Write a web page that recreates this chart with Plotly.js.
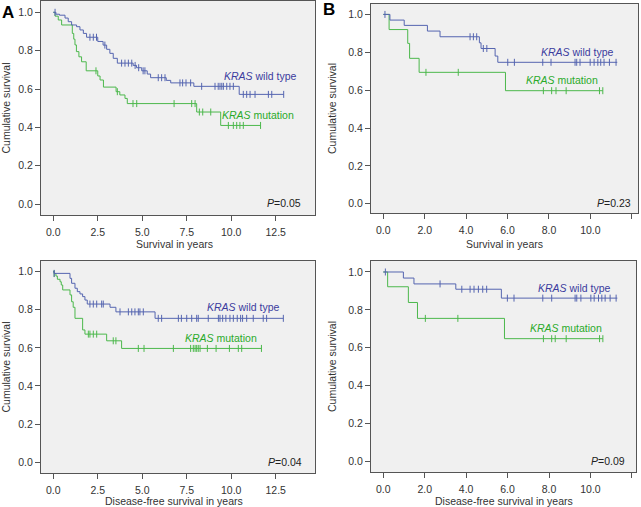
<!DOCTYPE html>
<html>
<head>
<meta charset="utf-8">
<script src="https://cdn.plot.ly/plotly-3.0.1.min.js"></script>
<style>html,body{margin:0;padding:0;background:#fff;}#chart{width:641px;height:507px;}</style>
</head>
<body>
<div id="chart"></div>
<script>
// Panel A: overall survival, all patients
const aWildT = [0, 0.15, 0.35, 0.66, 0.84, 1.03, 1.31, 1.5, 1.69, 1.87, 2.5, 2.8, 3.0, 3.18, 3.37, 3.6, 4.49, 4.68, 4.97, 5.28, 5.47, 6.35, 6.6, 7.9, 10.45, 12.95];
const aWildS = [1.0, 0.99, 0.985, 0.97, 0.951, 0.934, 0.925, 0.908, 0.89, 0.87, 0.848, 0.829, 0.807, 0.786, 0.76, 0.735, 0.723, 0.711, 0.695, 0.678, 0.659, 0.645, 0.632, 0.614, 0.572, 0.572];
const aWildCensT = [0.1, 2.06, 2.25, 2.43, 2.9, 3.84, 4.03, 4.22, 4.41, 4.6, 4.8, 5.05, 5.15, 5.9, 6.09, 6.28, 7.12, 7.27, 7.46, 7.72, 8.34, 9.09, 9.27, 9.37, 9.47, 9.56, 9.75, 9.93, 10.12, 10.68, 10.87, 11.06, 11.34, 12.09, 12.28, 12.95];
const aWildCensS = [1.0, 0.87, 0.87, 0.87, 0.829, 0.735, 0.735, 0.735, 0.735, 0.723, 0.711, 0.695, 0.695, 0.659, 0.659, 0.659, 0.632, 0.632, 0.632, 0.632, 0.614, 0.614, 0.614, 0.614, 0.614, 0.614, 0.614, 0.614, 0.614, 0.572, 0.572, 0.572, 0.572, 0.572, 0.572, 0.572];
const aMutT = [0, 0.1, 0.28, 0.47, 1.07, 1.15, 1.22, 1.3, 1.44, 1.59, 1.85, 2.5, 2.63, 2.82, 3.53, 3.74, 4.03, 4.16, 8.06, 9.41, 11.65];
const aMutS = [1.0, 0.98, 0.96, 0.934, 0.89, 0.86, 0.83, 0.795, 0.768, 0.742, 0.695, 0.668, 0.647, 0.61, 0.586, 0.569, 0.551, 0.524, 0.48, 0.41, 0.41];
const aMutCensT = [2.4, 3.6, 4.48, 4.69, 6.79, 7.78, 7.97, 8.21, 8.4, 8.85, 9.84, 10.12, 10.31, 10.49, 10.68, 11.65];
const aMutCensS = [0.695, 0.586, 0.524, 0.524, 0.524, 0.524, 0.524, 0.48, 0.48, 0.48, 0.41, 0.41, 0.41, 0.41, 0.41, 0.41];

// Panel B: overall survival, subgroup
const bWildT = [0, 0.32, 1.01, 2.13, 2.74, 4.64, 4.72, 5.4, 5.53, 11.3];
const bWildS = [1.0, 0.97, 0.942, 0.912, 0.882, 0.85, 0.82, 0.78, 0.747, 0.747];
const bWildCensT = [0.08, 4.19, 4.35, 4.51, 4.83, 5.0, 6.01, 6.33, 7.7, 8.1, 9.26, 9.34, 9.5, 9.99, 10.18, 10.36, 10.5, 10.66, 10.92, 11.24];
const bWildCensS = [1.0, 0.882, 0.882, 0.882, 0.82, 0.82, 0.747, 0.747, 0.747, 0.747, 0.747, 0.747, 0.747, 0.747, 0.747, 0.747, 0.747, 0.747, 0.747, 0.747];
const bMutT = [0, 0.28, 1.18, 1.27, 1.73, 5.9, 10.6];
const bMutS = [1.0, 0.92, 0.847, 0.768, 0.694, 0.597, 0.597];
const bMutCensT = [2.06, 3.62, 7.73, 8.13, 8.34, 8.83, 10.44, 10.6];
const bMutCensS = [0.694, 0.694, 0.597, 0.597, 0.597, 0.597, 0.597, 0.597];

// Panel C: disease-free survival, all patients
const cWildT = [0, 0.05, 0.94, 1.03, 1.22, 1.35, 1.5, 1.65, 1.78, 1.91, 3.19, 3.52, 5.72, 12.93];
const cWildS = [1.0, 0.991, 0.965, 0.939, 0.913, 0.895, 0.883, 0.869, 0.851, 0.83, 0.813, 0.789, 0.755, 0.755];
const cWildCensT = [0.05, 2.06, 2.25, 2.44, 2.72, 2.81, 3.75, 4.22, 4.41, 4.59, 4.78, 4.87, 5.06, 5.9, 6.09, 7.03, 7.2, 7.5, 7.78, 8.06, 8.15, 8.71, 9.28, 9.37, 9.52, 9.7, 9.93, 10.12, 10.34, 10.53, 10.64, 10.87, 11.24, 11.8, 11.99, 12.93];
const cWildCensS = [0.991, 0.83, 0.83, 0.83, 0.83, 0.83, 0.789, 0.789, 0.789, 0.789, 0.789, 0.789, 0.789, 0.755, 0.755, 0.755, 0.755, 0.755, 0.755, 0.755, 0.755, 0.755, 0.755, 0.755, 0.755, 0.755, 0.755, 0.755, 0.755, 0.755, 0.755, 0.755, 0.755, 0.755, 0.755, 0.755];
const cMutT = [0, 0.05, 0.15, 0.23, 0.38, 0.45, 0.53, 0.94, 1.03, 1.12, 1.22, 1.65, 1.78, 3.0, 3.84, 11.7];
const cMutS = [1.0, 0.99, 0.977, 0.96, 0.947, 0.93, 0.904, 0.878, 0.842, 0.813, 0.755, 0.694, 0.672, 0.637, 0.597, 0.597];
const cMutCensT = [0.05, 1.97, 2.06, 2.25, 2.44, 3.37, 3.52, 4.78, 5.1, 6.75, 7.72, 7.87, 7.97, 8.06, 8.15, 8.25, 8.66, 9.15, 9.9, 10.4, 10.59, 11.7];
const cMutCensS = [0.99, 0.672, 0.672, 0.672, 0.672, 0.637, 0.637, 0.597, 0.597, 0.597, 0.597, 0.597, 0.597, 0.597, 0.597, 0.597, 0.597, 0.597, 0.597, 0.597, 0.597, 0.597];

// Panel D: disease-free survival, subgroup
const dWildT = [0, 0.97, 1.48, 3.5, 5.7, 11.3];
const dWildS = [1.0, 0.968, 0.937, 0.909, 0.862, 0.862];
const dWildCensT = [0.1, 2.74, 3.79, 4.19, 4.38, 4.59, 4.8, 4.99, 5.99, 6.31, 7.7, 8.13, 9.26, 9.34, 9.54, 10.02, 10.18, 10.39, 10.55, 10.71, 10.95, 11.24];
const dWildCensS = [1.0, 0.937, 0.909, 0.909, 0.909, 0.909, 0.909, 0.909, 0.862, 0.862, 0.862, 0.862, 0.862, 0.862, 0.862, 0.862, 0.862, 0.862, 0.862, 0.862, 0.862, 0.862];
const dMutT = [0, 0.21, 1.21, 1.65, 5.85, 10.6];
const dMutS = [1.0, 0.922, 0.839, 0.755, 0.648, 0.648];
const dMutCensT = [2.03, 3.6, 7.73, 8.13, 8.3, 8.83, 10.44, 10.6];
const dMutCensS = [0.755, 0.755, 0.648, 0.648, 0.648, 0.648, 0.648, 0.648];

const pValues = ["0.05", "0.23", "0.04", "0.09"];
const xTitles = ["Survival in years", "Survival in years", "Disease-free survival in years", "Disease-free survival in years"];
const yTitle = "Cumulative survival";
const panelLetters = ["A", "B"];
const seriesNames = ["KRAS wild type", "KRAS mutation"];

const BLUE = "#5565b0", GREEN = "#4cb84c";
const BLUE_TXT = "#3b3b9e", GREEN_TXT = "#2aaa2a";
const FONT = "Liberation Sans, Arial, sans-serif";

const panels = [
  {xa: "x", ya: "y", wt: aWildT, ws: aWildS, wct: aWildCensT, wcs: aWildCensS, mt: aMutT, ms: aMutS, mct: aMutCensT, mcs: aMutCensS},
  {xa: "x2", ya: "y2", wt: bWildT, ws: bWildS, wct: bWildCensT, wcs: bWildCensS, mt: bMutT, ms: bMutS, mct: bMutCensT, mcs: bMutCensS},
  {xa: "x3", ya: "y3", wt: cWildT, ws: cWildS, wct: cWildCensT, wcs: cWildCensS, mt: cMutT, ms: cMutS, mct: cMutCensT, mcs: cMutCensS},
  {xa: "x4", ya: "y4", wt: dWildT, ws: dWildS, wct: dWildCensT, wcs: dWildCensS, mt: dMutT, ms: dMutS, mct: dMutCensT, mcs: dMutCensS}
];

const traces = [];
panels.forEach(p => {
  traces.push({x: p.mt, y: p.ms, xaxis: p.xa, yaxis: p.ya, mode: "lines", line: {shape: "hv", color: GREEN, width: 1}, name: seriesNames[1], showlegend: false, hoverinfo: "skip"});
  traces.push({x: p.mct, y: p.mcs, xaxis: p.xa, yaxis: p.ya, mode: "markers", marker: {symbol: "line-ns-open", size: 5, color: GREEN, line: {color: GREEN, width: 1}}, showlegend: false, hoverinfo: "skip"});
  traces.push({x: p.wt, y: p.ws, xaxis: p.xa, yaxis: p.ya, mode: "lines", line: {shape: "hv", color: BLUE, width: 1}, name: seriesNames[0], showlegend: false, hoverinfo: "skip"});
  traces.push({x: p.wct, y: p.wcs, xaxis: p.xa, yaxis: p.ya, mode: "markers", marker: {symbol: "line-ns-open", size: 5, color: BLUE, line: {color: BLUE, width: 1}}, showlegend: false, hoverinfo: "skip"});
});

const W = 641, H = 507;
const fx = px => px / W;
const fy = py => 1 - py / H;

function xaxis(dom, range, dtick) {
  return {
    domain: dom, range: range, tick0: 0, dtick: dtick, tickformat: ".1f",
    showline: true, mirror: true, linecolor: "#555", linewidth: 1,
    ticks: "outside", ticklen: 5, tickcolor: "#555", showgrid: false, zeroline: false,
    ticklabelstandoff: 2,
    tickfont: {family: FONT, size: 10.5, color: "#333"}
  };
}
function yaxis(dom, range) {
  return {
    domain: dom, range: range, tick0: 0, dtick: 0.2, tickformat: ".1f",
    showline: true, mirror: true, linecolor: "#555", linewidth: 1,
    ticks: "outside", ticklen: 5, tickcolor: "#555", showgrid: false, zeroline: false,
    tickfont: {family: FONT, size: 10.5, color: "#333"},
    title: {text: yTitle, font: {family: FONT, size: 10.5, color: "#333"}, standoff: 9}
  };
}

const labelPos = [
  {wx: 13.81, wy: 0.668, mx: 13.64, my: 0.464, px: 14.04, py: 0.005},
  {wx: 11.24, wy: 0.801, mx: 10.47, my: 0.653, px: 12.06, py: 0.004},
  {wx: 12.86, wy: 0.813, mx: 11.56, my: 0.65, px: 14.09, py: 0.0},
  {wx: 11.1, wy: 0.914, mx: 10.66, my: 0.706, px: 11.77, py: 0.003}
];
// x-axis title centres (px from top-left)
const xTitlePos = [[174, 244], [504, 244], [174, 500.5], [504, 500.5]];

const annotations = [];
labelPos.forEach((l, i) => {
  const xr = panels[i].xa, yr = panels[i].ya;
  annotations.push({xref: xr, yref: yr, x: l.wx, y: l.wy, xanchor: "right", yanchor: "middle", showarrow: false,
    text: "<i>KRAS</i> wild type", font: {family: FONT, size: 10.5, color: BLUE_TXT}});
  annotations.push({xref: xr, yref: yr, x: l.mx, y: l.my, xanchor: "right", yanchor: "middle", showarrow: false,
    text: "<i>KRAS</i> mutation", font: {family: FONT, size: 10.5, color: GREEN_TXT}});
  annotations.push({xref: xr, yref: yr, x: l.px, y: l.py, xanchor: "right", yanchor: "middle", showarrow: false,
    text: "<i>P</i>=" + pValues[i], font: {family: FONT, size: 10.5, color: "#222"}});
  annotations.push({xref: "paper", yref: "paper", x: fx(xTitlePos[i][0]), y: fy(xTitlePos[i][1]), xanchor: "center", yanchor: "middle", showarrow: false,
    borderpad: 0, text: xTitles[i], font: {family: FONT, size: 10.5, color: "#333"}});
});
annotations.push({xref: "paper", yref: "paper", x: fx(0), y: fy(12), xanchor: "left", yanchor: "middle", showarrow: false,
  text: "<b>" + panelLetters[0] + "</b>", font: {family: FONT, size: 17, color: "#000"}});
annotations.push({xref: "paper", yref: "paper", x: fx(321), y: fy(10), xanchor: "left", yanchor: "middle", showarrow: false,
  text: "<b>" + panelLetters[1] + "</b>", font: {family: FONT, size: 17, color: "#000"}});

const layout = {
  width: W, height: H,
  margin: {l: 0, r: 0, t: 0, b: 0},
  paper_bgcolor: "#ffffff", plot_bgcolor: "#f0f0f0",
  showlegend: false,
  font: {family: FONT, size: 10.5, color: "#333"},
  xaxis: xaxis([fx(41), fx(315)], [-0.69, 14.71], 2.5),
  yaxis: yaxis([fy(215), fy(1)], [-0.057, 1.059]),
  xaxis2: xaxis([fx(371), fx(638)], [-0.594, 12.30], 2),
  yaxis2: yaxis([fy(213), fy(4)], [-0.049, 1.055]),
  xaxis3: xaxis([fx(41), fx(315)], [-0.69, 14.71], 2.5),
  yaxis3: yaxis([fy(473), fy(261)], [-0.057, 1.056]),
  xaxis4: xaxis([fx(371), fx(636)], [-0.594, 12.20], 2),
  yaxis4: yaxis([fy(472), fy(261)], [-0.056, 1.058]),
  annotations: annotations
};
layout.yaxis2.anchor = "x2"; layout.xaxis2.anchor = "y2";
layout.yaxis3.anchor = "x3"; layout.xaxis3.anchor = "y3";
layout.yaxis4.anchor = "x4"; layout.xaxis4.anchor = "y4";
layout.yaxis.anchor = "x"; layout.xaxis.anchor = "y";

Plotly.newPlot("chart", traces, layout, {staticPlot: true, displayModeBar: false});
</script>
</body>
</html>
